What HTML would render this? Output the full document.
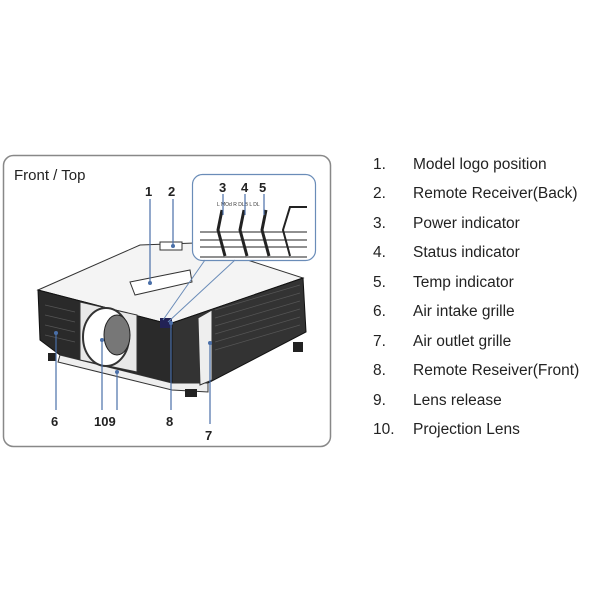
<!DOCTYPE html>
<html><head><style>body{margin:0;background:#fff}svg{display:block}</style></head><body>
<svg width="600" height="600" viewBox="0 0 600 600" xmlns="http://www.w3.org/2000/svg" font-family="Liberation Sans, sans-serif">
<rect x="3.5" y="155.5" width="327" height="291" rx="10" fill="#fff" stroke="#888" stroke-width="1.5"/>
<text x="14" y="180" font-size="15" fill="#222">Front / Top</text>
<!-- projector -->
<polygon points="38,290 140,245 195,243 303,278 172,323 165,323" fill="#f4f4f4" stroke="#333"/>
<polygon points="38,290 165,323 172,323 172,383 60,355 40,340" fill="#2a2a2a" stroke="#111"/>
<polygon points="172,323 303,278 306,332 208,383 172,383" fill="#333" stroke="#111"/>
<g stroke="#555" stroke-width="0.7">
<line x1="215" y1="310" x2="300" y2="285"/><line x1="215" y1="318" x2="300" y2="293"/><line x1="215" y1="326" x2="300" y2="301"/><line x1="215" y1="334" x2="300" y2="309"/><line x1="215" y1="342" x2="300" y2="317"/><line x1="215" y1="350" x2="300" y2="325"/>
<line x1="45" y1="305" x2="75" y2="312"/><line x1="45" y1="315" x2="75" y2="322"/><line x1="45" y1="325" x2="75" y2="332"/><line x1="45" y1="335" x2="75" y2="342"/>
</g>
<polygon points="60,355 172,383 208,383 208,392 172,390 58,362" fill="#eee" stroke="#333"/>
<polygon points="80,302 137,315 137,372 80,360" fill="#e8e8e8" stroke="#333"/>
<ellipse cx="106" cy="337" rx="23" ry="29" fill="#fff" stroke="#333" stroke-width="2"/>
<ellipse cx="117" cy="335" rx="13" ry="20" fill="#777" stroke="#222"/>
<polygon points="198,318 212,310 212,380 200,385" fill="#eee" stroke="#333"/>
<polygon points="130,282 190,270 192,282 135,295" fill="#fff" stroke="#333"/>
<rect x="160" y="242" width="22" height="8" fill="#fff" stroke="#333"/>
<rect x="160" y="318" width="12" height="10" fill="#225" />
<rect x="48" y="353" width="8" height="8" fill="#222"/><rect x="185" y="389" width="12" height="8" fill="#222"/><rect x="293" y="342" width="10" height="10" fill="#222"/>
<!-- inset -->
<rect x="192.5" y="174.5" width="123" height="86" rx="10" fill="#fff" stroke="#6a8cb8" stroke-width="1.2"/>
<line x1="205" y1="260" x2="163" y2="320" stroke="#6a8cb8"/><line x1="235" y1="260" x2="168" y2="322" stroke="#6a8cb8"/>
<g stroke="#222" stroke-width="1" fill="none">
<line x1="200" y1="232" x2="307" y2="232"/><line x1="200" y1="240" x2="307" y2="240"/><line x1="200" y1="247" x2="307" y2="247"/><line x1="200" y1="257" x2="307" y2="257"/>
<path d="M222,210 L218,230 L225,256" stroke-width="3"/><path d="M244,210 L240,230 L247,256" stroke-width="3"/><path d="M266,210 L262,230 L269,256" stroke-width="3"/>
<path d="M307,207 L290,207 L283,230 L290,256" stroke-width="2"/>
</g>
<text x="217" y="206" font-size="5" fill="#333">L   MOd R   DLB   L   DL</text>
<g font-size="13" font-weight="bold" fill="#222">
<text x="219" y="192">3</text><text x="241" y="192">4</text><text x="259" y="192">5</text>
<text x="145" y="196">1</text><text x="168" y="196">2</text>
<text x="51" y="426">6</text><text x="94" y="426">109</text><text x="166" y="426">8</text><text x="205" y="440">7</text>
</g>
<g stroke="#4a6fa8" stroke-width="1.2">
<line x1="150" y1="199" x2="150" y2="283"/><line x1="173" y1="199" x2="173" y2="246"/>
<line x1="223" y1="194" x2="223" y2="215"/><line x1="245" y1="194" x2="245" y2="215"/><line x1="264" y1="194" x2="264" y2="215"/>
<line x1="56" y1="333" x2="56" y2="410"/><line x1="102" y1="340" x2="102" y2="410"/><line x1="117" y1="372" x2="117" y2="410"/>
<line x1="171" y1="323" x2="171" y2="410"/><line x1="210" y1="343" x2="210" y2="424"/>
</g>
<g fill="#4a6fa8"><circle cx="150" cy="283" r="2"/><circle cx="173" cy="246" r="2"/><circle cx="56" cy="333" r="2"/><circle cx="102" cy="340" r="2"/><circle cx="117" cy="372" r="2"/><circle cx="171" cy="323" r="2"/><circle cx="210" cy="343" r="2"/></g>
<!-- list -->
<g font-size="15.5" fill="#222">
<text x="373" y="169">1.</text><text x="413" y="169">Model logo position</text>
<text x="373" y="198">2.</text><text x="413" y="198">Remote Receiver(Back)</text>
<text x="373" y="228">3.</text><text x="413" y="228">Power indicator</text>
<text x="373" y="257">4.</text><text x="413" y="257">Status indicator</text>
<text x="373" y="287">5.</text><text x="413" y="287">Temp indicator</text>
<text x="373" y="316">6.</text><text x="413" y="316">Air intake grille</text>
<text x="373" y="346">7.</text><text x="413" y="346">Air outlet grille</text>
<text x="373" y="375">8.</text><text x="413" y="375">Remote Reseiver(Front)</text>
<text x="373" y="405">9.</text><text x="413" y="405">Lens release</text>
<text x="373" y="434">10.</text><text x="413" y="434">Projection Lens</text>
</g>
</svg>
</body></html>
